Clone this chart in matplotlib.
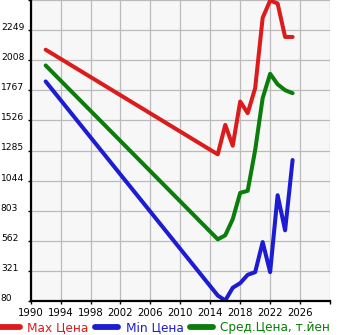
import matplotlib
matplotlib.use("Agg")
import matplotlib.pyplot as plt

# yearly price series (thousand yen)
max_years = [1992, 2015, 2016, 2017, 2018, 2019, 2020, 2021, 2022, 2023, 2024, 2025]
max_price = [2092, 1254, 1490, 1323, 1677, 1584, 1785, 2347, 2486, 2462, 2194, 2194]

min_years = [1992, 2015, 2016, 2017, 2018, 2019, 2020, 2021, 2022, 2023, 2024, 2025]
min_price = [1838, 124, 84, 186, 223, 290, 311, 552, 311, 927, 646, 1209]

avg_years = [1992, 2015, 2016, 2017, 2018, 2019, 2020, 2021, 2022, 2023, 2024, 2025]
avg_price = [1966, 574, 606, 735, 946, 962, 1289, 1704, 1899, 1815, 1768, 1744]

x_ticks = [1990, 1994, 1998, 2002, 2006, 2010, 2014, 2018, 2022, 2026]
y_ticks = [80, 321, 562, 803, 1044, 1285, 1526, 1767, 2008, 2249]

RED = "#dc1c1c"
BLUE = "#1c1cd2"
GREEN = "#0a7d0a"

fig = plt.figure(figsize=(3.45, 3.35), dpi=100)
ax = fig.add_axes([30.7 / 345, 1 - 301 / 335, (330 - 30.7) / 345, 301 / 335])
ax.set_facecolor("#f7f7f7")

kw = dict(lw=2.9, solid_capstyle="round", solid_joinstyle="round")
ax.plot(max_years, max_price, color=RED, label="Max Цена", **kw)
ax.plot(min_years, min_price, color=BLUE, label="Min Цена", **kw)
ax.plot(avg_years, avg_price, color=GREEN, label="Сред.Цена, т.йен", **kw)

ax.set_xlim(1990, 2030)
ax.set_ylim(80, 2490)
ax.set_xticks(x_ticks + [2030])
ax.set_xticklabels([str(t) for t in x_ticks] + [""], fontsize=7.3)
ax.set_yticks(y_ticks + [2490])
ax.set_yticklabels([str(t) for t in y_ticks] + [""], fontsize=6.6)
for lbl in ax.get_yticklabels():
    lbl.set_ha("left")
    lbl.set_va("baseline")

ax.grid(True, color="#bbbbbb", lw=0.9)
ax.set_axisbelow(True)
ax.tick_params(axis="y", length=2.5, width=1, pad=19.0)
ax.tick_params(axis="x", length=2, width=1, pad=3)

for side in ("left", "bottom"):
    ax.spines[side].set_linewidth(1.6)
    ax.spines[side].set_color("black")
for side in ("top", "right"):
    ax.spines[side].set_visible(False)

leg = fig.legend(loc="center left", bbox_to_anchor=(-0.008, 0.021), ncol=3,
                 frameon=False, fontsize=8.7, handlelength=1.85,
                 handletextpad=0.65, columnspacing=0.55, borderpad=0,
                 borderaxespad=0, labelcolor="linecolor")
for h in leg.legend_handles:
    h.set_linewidth(4.2)

fig.savefig("out.png", dpi=100)
